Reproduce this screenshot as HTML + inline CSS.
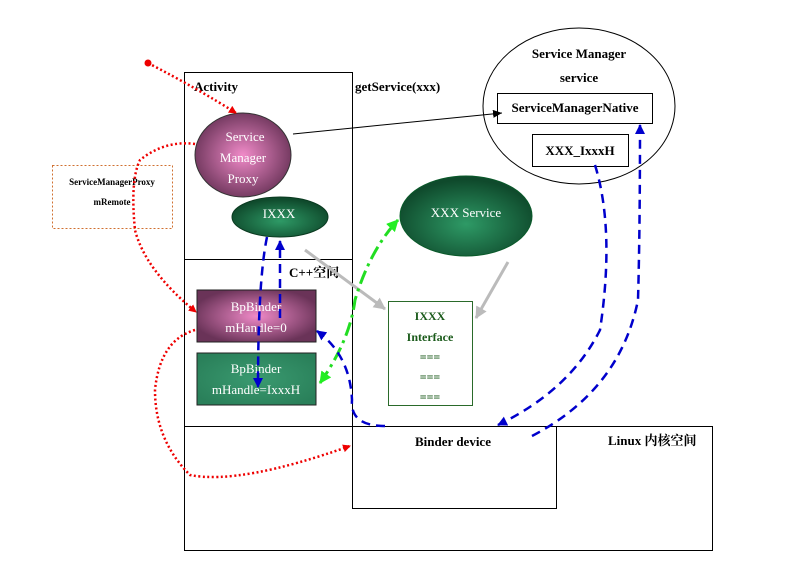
<!DOCTYPE html>
<html><head><meta charset="utf-8"><style>
body{margin:0;background:#fff}
svg{display:block}
text{font-family:"Liberation Serif","Noto Serif CJK SC",serif}
</style></head><body>
<svg width="796" height="579" viewBox="0 0 796 579" xmlns="http://www.w3.org/2000/svg">
<defs>
<radialGradient id="pk" cx="50%" cy="50%" r="55%"><stop offset="0" stop-color="#f08ac8"/><stop offset="1" stop-color="#6a3358"/></radialGradient>
<radialGradient id="gr" cx="50%" cy="60%" r="55%"><stop offset="0" stop-color="#2e9a66"/><stop offset="1" stop-color="#0f4a2c"/></radialGradient>
<radialGradient id="gr2" cx="50%" cy="50%" r="60%"><stop offset="0" stop-color="#3a9a70"/><stop offset="1" stop-color="#2a805a"/></radialGradient>
<marker id="ar" markerWidth="8" markerHeight="8" refX="7" refY="4" orient="auto" markerUnits="userSpaceOnUse"><path d="M0,0 L8,4 L0,8z" fill="#e00"/></marker>
<marker id="ab" markerWidth="10" markerHeight="10" refX="9" refY="5" orient="auto" markerUnits="userSpaceOnUse"><path d="M0,0 L10,5 L0,10z" fill="#00c"/></marker>
<marker id="ag" markerWidth="12" markerHeight="12" refX="11" refY="6" orient="auto" markerUnits="userSpaceOnUse"><path d="M0,0 L12,6 L0,12z" fill="#2e2"/></marker>
<marker id="ags" markerWidth="12" markerHeight="12" refX="1" refY="6" orient="auto" markerUnits="userSpaceOnUse"><path d="M12,0 L0,6 L12,12z" fill="#2e2"/></marker>
<marker id="agr" markerWidth="12" markerHeight="12" refX="11" refY="6" orient="auto" markerUnits="userSpaceOnUse"><path d="M0,0 L12,6 L0,12z" fill="#bbb"/></marker>
<marker id="ak" markerWidth="9" markerHeight="8" refX="9" refY="4" orient="auto" markerUnits="userSpaceOnUse"><path d="M0,0 L9,4 L0,8z" fill="#000"/></marker>
</defs>
<g fill="none" stroke="#000" stroke-width="1">
<rect x="184.5" y="72.5" width="168" height="354"/>
<line x1="184.5" y1="259.5" x2="352.5" y2="259.5"/>
<rect x="184.5" y="426.5" width="528" height="124"/>
<rect x="352.5" y="426.5" width="204" height="82"/>
<ellipse cx="579" cy="106" rx="96" ry="78"/>
<rect x="497.5" y="93.5" width="155" height="30" fill="#fff"/>
<rect x="532.5" y="134.5" width="96" height="32" fill="#fff"/>
</g>
<rect x="52.5" y="165.5" width="120" height="63" fill="none" stroke="#d07030" stroke-dasharray="2,2"/>
<text x="112" y="185" font-size="9" font-weight="bold" text-anchor="middle">ServiceManagerProxy</text>
<text x="112" y="205" font-size="9" font-weight="bold" text-anchor="middle">mRemote</text>
<text x="194" y="91" font-size="13" font-weight="bold">Activity</text>
<text x="355" y="91" font-size="13" font-weight="bold">getService(xxx)</text>
<text x="579" y="58" font-size="13" font-weight="bold" text-anchor="middle">Service Manager</text>
<text x="579" y="82" font-size="13" font-weight="bold" text-anchor="middle">service</text>
<text x="575" y="112" font-size="13" font-weight="bold" text-anchor="middle">ServiceManagerNative</text>
<text x="580" y="155" font-size="13" font-weight="bold" text-anchor="middle">XXX_IxxxH</text>
<text x="289" y="277" font-size="13" font-weight="bold">C++空间</text>
<text x="453" y="446" font-size="13" font-weight="bold" text-anchor="middle">Binder device</text>
<text x="608" y="445" font-size="13" font-weight="bold">Linux 内核空间</text>
<ellipse cx="243" cy="155" rx="48" ry="42" fill="url(#pk)" stroke="#333"/>
<g fill="#fff" font-size="13" text-anchor="middle"><text x="245" y="141">Service</text><text x="243" y="162">Manager</text><text x="243" y="183">Proxy</text></g>
<ellipse cx="280" cy="217" rx="48" ry="20" fill="url(#gr)" stroke="#0a3a20"/>
<text x="279" y="218" fill="#fff" font-size="13" text-anchor="middle">IXXX</text>
<ellipse cx="466" cy="216" rx="66" ry="40" fill="url(#gr)" stroke="#0a5a2a"/>
<text x="466" y="217" fill="#fff" font-size="13" text-anchor="middle">XXX Service</text>
<rect x="197" y="290" width="119" height="52" fill="url(#pk)" stroke="#222"/>
<g fill="#fff" font-size="13" text-anchor="middle"><text x="256" y="311">BpBinder</text><text x="256" y="332">mHandle=0</text></g>
<rect x="197" y="353" width="119" height="52" fill="url(#gr2)" stroke="#222"/>
<g fill="#fff" font-size="13" text-anchor="middle"><text x="256" y="373">BpBinder</text><text x="256" y="394">mHandle=IxxxH</text></g>
<rect x="388.5" y="301.5" width="84" height="104" fill="#fff" stroke="#2a6a2a"/>
<g fill="#1a5a1a" font-size="12" font-weight="bold" text-anchor="middle"><text x="430" y="320">IXXX</text><text x="430" y="341">Interface</text><text x="430" y="361">===</text><text x="430" y="381">===</text><text x="430" y="401">===</text></g>
<line x1="293" y1="134" x2="502" y2="113" stroke="#000" marker-end="url(#ak)"/>
<g stroke="#bbb" stroke-width="3" fill="none">
<line x1="305" y1="250" x2="385" y2="309" marker-end="url(#agr)"/>
<line x1="508" y1="262" x2="476" y2="318" marker-end="url(#agr)"/>
</g>
<g fill="none" stroke="#22dd22" stroke-width="3" stroke-dasharray="14,5,3,5">
<path d="M320,383 Q350,340 355,300 Q370,250 398,220" marker-start="url(#ags)" marker-end="url(#ag)"/>
</g>
<g fill="none" stroke="#e00" stroke-width="2.5" stroke-dasharray="2,2.5">
<path d="M148,63 Q200,90 236,113" marker-end="url(#ar)"/>
<path d="M195,144 Q165,140 140,160 Q130,180 135,230 Q145,270 196,312" marker-end="url(#ar)"/>
<path d="M195,330 Q160,340 155,390 Q155,440 190,475 Q240,485 350,446" marker-end="url(#ar)"/>
</g>
<circle cx="148" cy="63" r="3.5" fill="#e00"/>
<g fill="none" stroke="#00c" stroke-width="2.5" stroke-dasharray="9,6">
<path d="M267,237 Q258,280 258,387" marker-end="url(#ab)"/>
<line x1="280" y1="318" x2="280" y2="241" marker-end="url(#ab)"/>
<path d="M385,426 Q350,426 352,400 Q350,355 317,331" marker-end="url(#ab)"/>
<path d="M595,165 Q615,230 600,330 Q570,390 498,425" marker-end="url(#ab)"/>
<path d="M532,436 Q620,390 638,300 Q640,230 640,125" marker-end="url(#ab)"/>
</g>
</svg>
</body></html>
